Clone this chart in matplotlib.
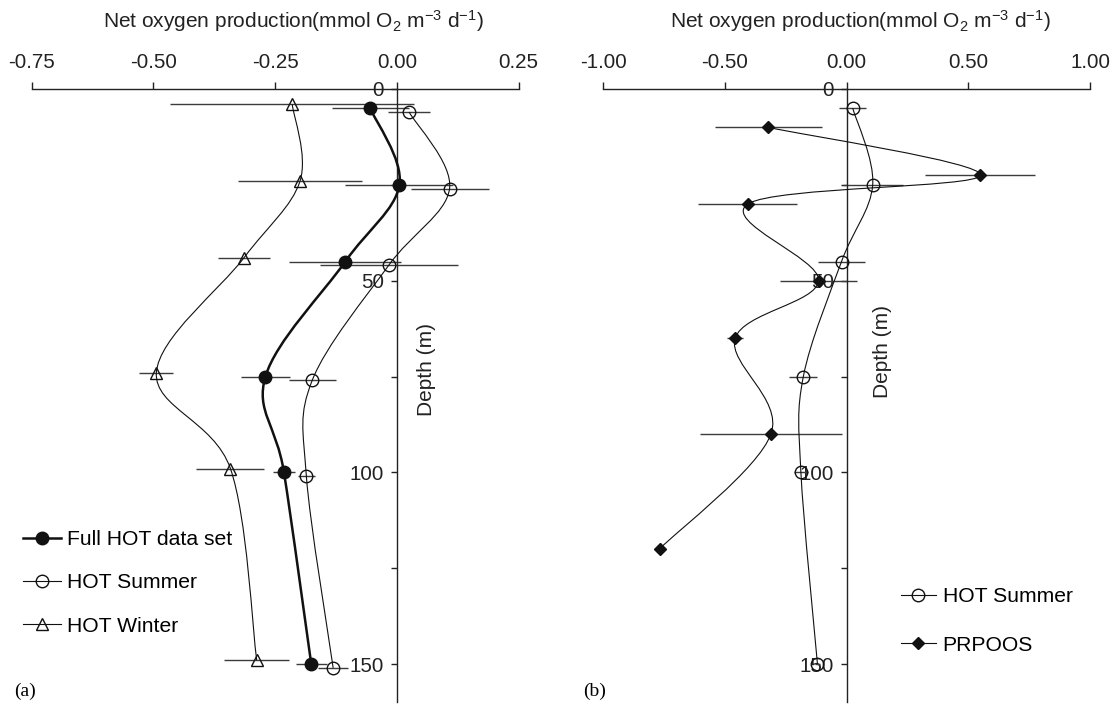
import numpy as np
import matplotlib
matplotlib.use("Agg")
import matplotlib.pyplot as plt
from matplotlib.path import Path
from matplotlib.patches import PathPatch
from matplotlib.lines import Line2D
from matplotlib.ticker import FixedLocator, FixedFormatter

plt.rcParams['font.family'] = ['Liberation Sans', 'DejaVu Sans']
plt.rcParams['mathtext.fontset'] = 'custom'
plt.rcParams['mathtext.rm'] = 'Liberation Sans'
plt.rcParams['mathtext.it'] = 'Liberation Sans:italic'
plt.rcParams['axes.unicode_minus'] = False

# ---------------- data: panel (a) ----------------
full_depth = [5, 25, 45, 75, 100, 150]
full_val = [-0.055, 0.005, -0.106, -0.270, -0.232, -0.176]
full_err = [0.079, 0.111, 0.115, 0.050, 0.023, 0.032]

sumA_depth = [6, 26, 46, 76, 101, 151]
sumA_val = [0.025, 0.108, -0.017, -0.174, -0.186, -0.131]
sumA_err = [0.043, 0.080, 0.142, 0.048, 0.018, 0.031]

win_depth = [4, 24, 44, 74, 99, 149]
win_val = [-0.215, -0.199, -0.314, -0.494, -0.342, -0.288]
win_err = [0.250, 0.127, 0.054, 0.035, 0.070, 0.067]

# ---------------- data: panel (b) ----------------
sumB_depth = [5, 25, 45, 75, 100, 150]
sumB_val = [0.025, 0.107, -0.021, -0.178, -0.188, -0.120]
sumB_err = [0.055, 0.124, 0.096, 0.058, 0.030, 0.010]

pr_depth = [10, 22.5, 30, 50, 65, 90, 120]
pr_val = [-0.322, 0.550, -0.406, -0.115, -0.458, -0.311, -0.769]
pr_err = [0.220, 0.226, 0.203, 0.157, 0.034, 0.290, 0.0]

xticksA = [-0.75, -0.50, -0.25, 0.00, 0.25]
xlabelsA = ['-0.75', '-0.50', '-0.25', '0.00', '0.25']
xticksB = [-1.0, -0.5, 0.0, 0.5, 1.0]
xlabelsB = ['-1.00', '-0.50', '0.00', '0.50', '1.00']
yticks = [0, 50, 100, 150]
yminor = [25, 75, 125]

TITLE = r'Net oxygen production(mmol O$_\mathrm{2}$ m$^\mathrm{-3}$ d$^\mathrm{-1}$)'

W, H = 1119, 704
fig = plt.figure(figsize=(W / 100, H / 100), dpi=100)

y0px, pxm = 89.0, 575.0 / 150.0
ymax = 160.0
bottom = 1 - (y0px + ymax * pxm) / H
height = (ymax * pxm) / H
axA = fig.add_axes([31.7 / W, bottom, 487.0 / W, height])
axB = fig.add_axes([603.3 / W, bottom, 486.7 / W, height])


def smooth_path(x, y):
    pts = np.column_stack([np.asarray(x, float), np.asarray(y, float)])
    n = len(pts)
    verts = [pts[0]]
    codes = [Path.MOVETO]
    for i in range(n - 1):
        p0 = pts[i - 1] if i > 0 else pts[i]
        p1 = pts[i]
        p2 = pts[i + 1]
        p3 = pts[i + 2] if i + 2 < n else pts[i + 1]
        c1 = p1 + (p2 - p0) / 6.0
        c2 = p2 - (p3 - p1) / 6.0
        verts += [c1, c2, p2]
        codes += [Path.CURVE4] * 3
    return Path(verts, codes)


def series(ax, vals, depths, errs, marker, ms, mfc, lw):
    ax.add_patch(PathPatch(smooth_path(vals, depths), fill=False,
                           edgecolor='#111111', lw=lw, zorder=3))
    ax.errorbar(vals, depths, xerr=errs, fmt='none', ecolor='#3c3c3c',
                elinewidth=1.0, capsize=0, zorder=2)
    ax.plot(vals, depths, linestyle='none', marker=marker, ms=ms,
            mfc=mfc, mec='#111111', mew=1.0, zorder=4)


def style_axes(ax, xlim, xt, xl):
    ax.set_xlim(*xlim)
    ax.set_ylim(ymax, 0)
    for s in ['right', 'bottom']:
        ax.spines[s].set_visible(False)
    ax.spines['left'].set_position(('data', 0))
    ax.spines['left'].set_linewidth(1.0)
    ax.spines['top'].set_linewidth(1.0)
    ax.spines['left'].set_color('#222222')
    ax.spines['top'].set_color('#222222')
    ax.xaxis.tick_top()
    ax.xaxis.set_major_locator(FixedLocator(xt))
    ax.xaxis.set_major_formatter(FixedFormatter(xl))
    ax.yaxis.set_major_locator(FixedLocator(yticks))
    ax.yaxis.set_major_formatter(FixedFormatter([str(v) for v in yticks]))
    ax.yaxis.set_minor_locator(FixedLocator(yminor))
    ax.tick_params(axis='x', which='major', direction='out', length=5.3,
                   width=1.0, pad=7, labelsize=14.8, colors='#222222')
    ax.tick_params(axis='y', which='both', direction='out', length=4.3,
                   width=1.0, pad=5.0, labelsize=14.8, colors='#222222')
    ax.patch.set_visible(False)


# panel (a)
series(axA, win_val, win_depth, win_err, '^', 9, 'none', 0.8)
series(axA, sumA_val, sumA_depth, sumA_err, 'o', 9, 'none', 0.8)
series(axA, full_val, full_depth, full_err, 'o', 9, '#111111', 1.8)
style_axes(axA, (-0.75, 0.25), xticksA, xlabelsA)

# panel (b)
series(axB, sumB_val, sumB_depth, sumB_err, 'o', 9, 'none', 0.8)
series(axB, pr_val, pr_depth, pr_err, 'D', 6.5, '#111111', 0.8)
style_axes(axB, (-1.0, 1.0), xticksB, xlabelsB)

# titles
fig.text(293.5 / W, 1 - 21 / H, TITLE, ha='center', va='center', fontsize=15, color='#222222')
fig.text(860 / W, 1 - 21 / H, TITLE, ha='center', va='center', fontsize=15, color='#222222')

# depth labels
fig.text(427 / W, 1 - 370 / H, 'Depth (m)', rotation=90, ha='center', va='center', fontsize=15, color='#222222')
fig.text(882 / W, 1 - 351.5 / H, 'Depth (m)', rotation=90, ha='center', va='center', fontsize=15, color='#222222')

# panel letters
fig.text(25 / W, 1 - 691.7 / H, '(a)', family='Liberation Serif', ha='center', va='center', fontsize=14)
fig.text(595 / W, 1 - 691.7 / H, '(b)', family='Liberation Serif', ha='center', va='center', fontsize=14)

# legends
hA = [Line2D([], [], color='#111111', lw=1.8, marker='o', ms=9, mfc='#111111', mec='#111111'),
      Line2D([], [], color='#111111', lw=0.8, marker='o', ms=9, mfc='none', mec='#111111'),
      Line2D([], [], color='#111111', lw=0.8, marker='^', ms=9, mfc='none', mec='#111111')]
legA = axA.legend(hA, ['Full HOT data set', 'HOT Summer', 'HOT Winter'],
                  loc='upper left', bbox_to_anchor=(23 / W, 1 - 530 / H),
                  bbox_transform=fig.transFigure, frameon=False, fontsize=15.2,
                  handlelength=1.8, handletextpad=0.3, labelspacing=1.15,
                  borderpad=0, borderaxespad=0)
hB = [Line2D([], [], color='#111111', lw=0.8, marker='o', ms=9, mfc='none', mec='#111111'),
      Line2D([], [], color='#111111', lw=0.8, marker='D', ms=6.5, mfc='#111111', mec='#111111')]
legB = axB.legend(hB, ['HOT Summer', 'PRPOOS'],
                  loc='upper left', bbox_to_anchor=(900.5 / W, 1 - 587 / H),
                  bbox_transform=fig.transFigure, frameon=False, fontsize=15.2,
                  handlelength=1.7, handletextpad=0.3, labelspacing=1.4,
                  borderpad=0, borderaxespad=0)

fig.savefig('out.png', dpi=100)
